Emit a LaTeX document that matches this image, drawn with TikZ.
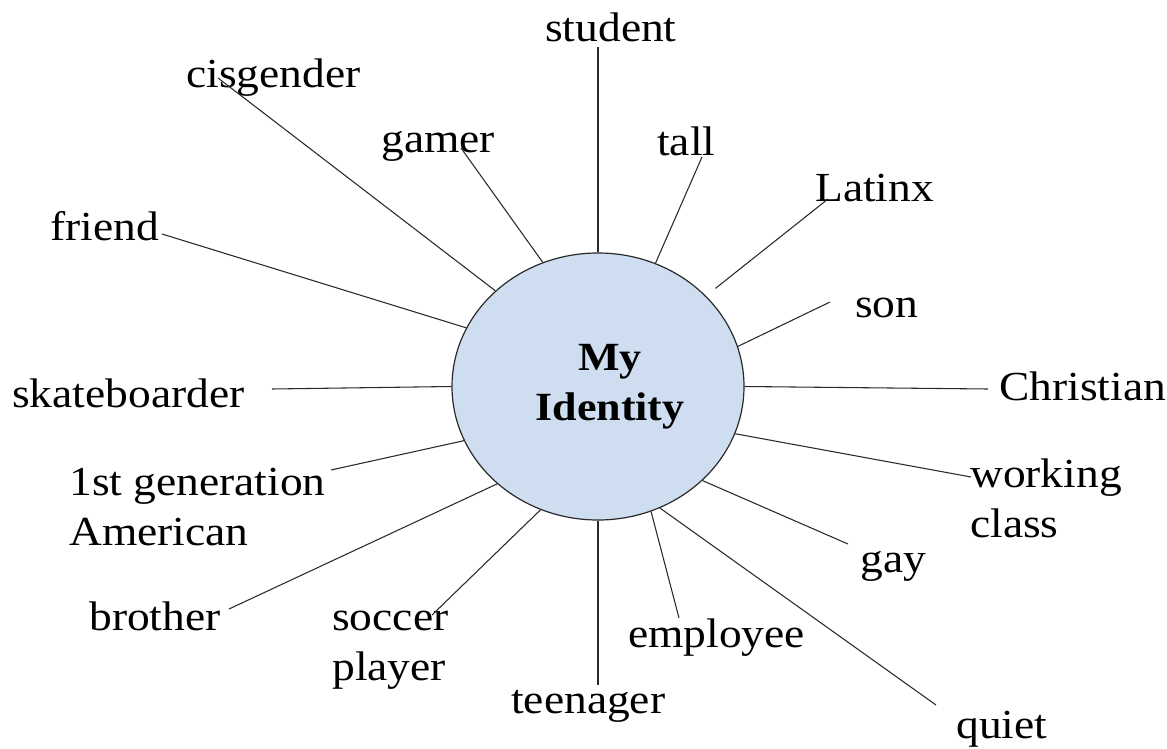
\documentclass[tikz,border=0pt]{standalone}
\usepackage{fontspec}
\setmainfont{Liberation Serif}[FakeStretch=1.10]
\usetikzlibrary{shapes.geometric}
\definecolor{hubfill}{HTML}{CEDEF0}
\definecolor{inkline}{HTML}{2A2A2A}
\begin{document}
\begin{tikzpicture}[x=0.75pt,y=-0.75pt,
  wordlabel/.style={inner sep=0pt, anchor=base west, align=left,
    font=\fontsize{31pt}{37.5pt}\selectfont, text=black},
  spoke/.style={draw=inkline, line width=0.8pt},
  hub/.style={ellipse, draw=inkline, line width=0.9pt, fill=hubfill,
    minimum width=219pt, minimum height=200.25pt, inner sep=0pt,
    align=center, font=\fontsize{30pt}{37.5pt}\selectfont\bfseries}]

% canvas
\fill[white] (0,0) rectangle (1167,749);
\useasboundingbox (0,0) rectangle (1167,749);

% central ellipse (its two text lines sit a little right of centre)
\node[hub] (hub) at (598,386.5) {\hspace*{18pt}My\\\hspace*{18pt}Identity};

% labels (two-line labels are placed by the baseline of their last line)
\node[wordlabel] (student)   at (545,42)  {student};
\node[wordlabel] (cisgender) at (186,88)  {cisgender};
\node[wordlabel] (gamer)     at (381,152) {gamer};
\node[wordlabel] (tall)      at (657,155) {tall};
\node[wordlabel] (latinx)    at (815,201) {Latinx};
\node[wordlabel] (son)       at (855,317) {son};
\node[wordlabel] (christian) at (999,400) {Christian};
\node[wordlabel] (working)   at (970,537) {working\\class};
\node[wordlabel] (gay)       at (860,572) {gay};
\node[wordlabel] (employee)  at (628,647) {employee};
\node[wordlabel] (quiet)     at (956,738) {quiet};
\node[wordlabel] (teenager)  at (511,713) {teenager};
\node[wordlabel] (soccer)    at (332,680) {soccer\\player};
\node[wordlabel] (brother)   at (89,630)  {brother};
\node[wordlabel] (firstgen)  at (69,545)  {1st generation\\American};
\node[wordlabel] (skate)     at (12,407)  {skateboarder};
\node[wordlabel] (friend)    at (50,240)  {friend};

% free ends of the spokes, next to their labels
\coordinate (student-end)   at (598,47);
\coordinate (cisgender-end) at (218,78);
\coordinate (gamer-end)     at (461,148);
\coordinate (tall-end)      at (702,157);
\coordinate (latinx-end)    at (828,199);
\coordinate (son-end)       at (830,302);
\coordinate (christian-end) at (988,389);
\coordinate (working-end)   at (971,477);
\coordinate (gay-end)       at (848,544);
\coordinate (quiet-end)     at (936,705);
\coordinate (employee-end)  at (679,618);
\coordinate (teenager-end)  at (598,685);
\coordinate (soccer-end)    at (432,615);
\coordinate (brother-end)   at (229,609);
\coordinate (firstgen-end)  at (331,470);
\coordinate (skate-end)     at (272,389);
\coordinate (friend-end)    at (162,234);

% spokes
\draw[spoke] (hub.90)    -- (student-end);
\draw[spoke] (hub.137.2) -- (cisgender-end);
\draw[spoke] (hub.114.4) -- (gamer-end);
\draw[spoke] (hub.65.4)  -- (tall-end);
\draw[spoke, shorten <=9pt] (hub.40.6) -- (latinx-end);
\draw[spoke] (hub.16.3)  -- (son-end);
\draw[spoke] (hub.0)     -- (christian-end);
\draw[spoke] (hub.-19.8) -- (working-end);
\draw[spoke] (hub.-42.3) -- (gay-end);
\draw[spoke] (hub.-63)   -- (quiet-end);
\draw[spoke] (hub.-67.1) -- (employee-end);
\draw[spoke] (hub.-90)   -- (teenager-end);
\draw[spoke] (hub.-115.9) -- (soccer-end);
\draw[spoke] (hub.-136.6) -- (brother-end);
\draw[spoke] (hub.-158.7) -- (firstgen-end);
\draw[spoke] (hub.180)   -- (skate-end);
\draw[spoke] (hub.156.8) -- (friend-end);
\end{tikzpicture}
\end{document}
